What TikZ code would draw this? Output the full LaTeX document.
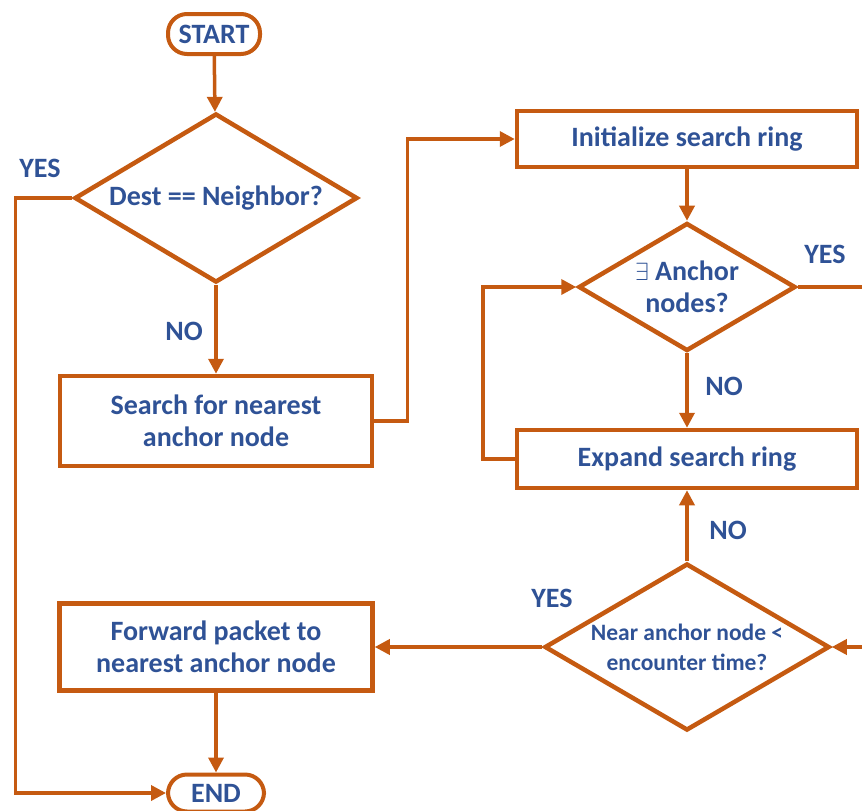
\documentclass[tikz,border=0pt]{standalone}
\usepackage{fontspec}
\setmainfont{Carlito}
\usetikzlibrary{shapes.geometric,arrows.meta}
\definecolor{flowor}{RGB}{197,90,17}
\definecolor{flowbl}{RGB}{47,82,150}
\begin{document}
\begin{tikzpicture}[x=1pt,y=-1pt,
    every node/.style={text=flowbl,font=\bfseries\fontsize{28}{32}\selectfont},
    term/.style={draw=flowor,line width=4pt,rectangle,rounded corners=19pt,
      minimum width=92pt,minimum height=40pt,inner sep=0pt},
    proc/.style={draw=flowor,line width=4.5pt,rectangle,align=center,inner sep=0pt},
    decision/.style={draw=flowor,line width=4.5pt,diamond,align=center,inner sep=0pt},
    tag/.style={inner sep=1pt},
    flow/.style={draw=flowor,line width=3.5pt,-{Triangle[length=15pt,width=15pt]}}]
  \useasboundingbox (0,0) rectangle (862,811);
  \draw
    (214,34) node[term] (start){START}
    (216,198) node[decision,aspect=1.67,minimum width=283,minimum height=169] (dest){Dest == Neighbor?}
    (216,421) node[proc,minimum width=312,minimum height=90] (search){Search for nearest\\anchor node}
    (687,139) node[proc,minimum width=340,minimum height=56] (init){Initialize search ring}
    (687,287) node[decision,aspect=1.7,minimum width=217,minimum height=128] (anchor){$\exists$ Anchor\\nodes?}
    (687,459) node[proc,minimum width=340,minimum height=58] (expand){Expand search ring}
    (687,647) node[decision,aspect=1.7,minimum width=285,minimum height=167,
      font=\bfseries\fontsize{23.5}{30}\selectfont] (near){Near anchor node <\\encounter time?}
    (216,647) node[proc,minimum width=313,minimum height=87] (forward){Forward packet to\\nearest anchor node}
    (216,793) node[term,minimum width=96,minimum height=37] (end){END}
    (40,168) node[tag] (yesA){YES}
    (184,331) node[tag] (noA){NO}
    (825,254) node[tag] (yesB){YES}
    (724,386) node[tag] (noB){NO}
    (728,530) node[tag] (noC){NO}
    (552,598) node[tag] (yesC){YES};
  \coordinate (outB) at (862,287);
  \coordinate (inC) at (862,647);
  \begin{scope}[flow]
    \draw (start) to (dest);
    \draw (dest) to (search);
    \draw (search.east) -- ++(33,0) |- (init.west);
    \draw (init) to (anchor);
    \draw (anchor) to (expand);
    \draw (expand.west) -- ++(-32,0) |- (anchor.west);
    \draw (near) to (expand);
    \draw (inC) to (near.east);
    \draw (near.west) to (forward.east);
    \draw (forward) to (end);
    \draw (dest.west) -- ++(-57,0) |- (end.west);
  \end{scope}
  \draw[draw=flowor,line width=3.5pt] (anchor.east) -- (outB);
\end{tikzpicture}
\end{document}
